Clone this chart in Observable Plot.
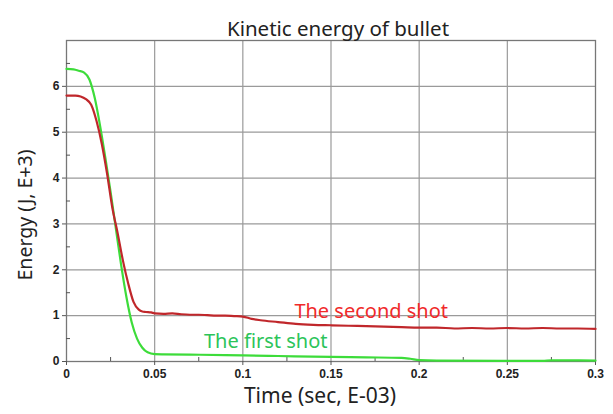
<!DOCTYPE html>
<html><head><meta charset="utf-8">
<script src="https://cdn.jsdelivr.net/npm/d3@7"></script>
<script src="https://cdn.jsdelivr.net/npm/@observablehq/plot@0.6"></script>
<style>body{margin:0;background:#fff}</style>
</head><body><div id="chart"></div>
<script>
const title = "Kinetic energy of bullet";
const xLabel = "Time (sec, E-03)";
const yLabel = "Energy (J, E+3)";
const xTicks = [0, 0.05, 0.1, 0.15, 0.2, 0.25, 0.3];
const xMinor = [0.025, 0.075, 0.125, 0.175, 0.225, 0.275];
const yTicks = [0, 1, 2, 3, 4, 5, 6];
const yMinor = [0.5, 1.5, 2.5, 3.5, 4.5, 5.5, 6.5];

const firstTime = [0, 0.004, 0.007, 0.010, 0.013, 0.016, 0.019, 0.022, 0.025, 0.028, 0.031, 0.034, 0.037, 0.040, 0.043, 0.046, 0.050, 0.055, 0.07, 0.09, 0.1, 0.12, 0.15, 0.17, 0.19, 0.195, 0.2, 0.21, 0.25, 0.27, 0.275, 0.3];
const firstEnergy = [6.38, 6.37, 6.34, 6.3, 6.15, 5.75, 5.15, 4.45, 3.7, 2.9, 2.1, 1.4, 0.85, 0.5, 0.3, 0.2, 0.16, 0.155, 0.15, 0.14, 0.135, 0.12, 0.1, 0.09, 0.08, 0.06, 0.03, 0.02, 0.015, 0.015, 0.025, 0.02];

const secondTime = [0, 0.005, 0.008, 0.011, 0.014, 0.017, 0.020, 0.023, 0.026, 0.029, 0.032, 0.035, 0.038, 0.041, 0.043, 0.045, 0.048, 0.05, 0.055, 0.06, 0.065, 0.07, 0.075, 0.08, 0.085, 0.09, 0.095, 0.1, 0.105, 0.11, 0.12, 0.13, 0.14, 0.15, 0.16, 0.17, 0.18, 0.19, 0.2, 0.21, 0.22, 0.23, 0.24, 0.25, 0.26, 0.27, 0.28, 0.29, 0.3];
const secondEnergy = [5.8, 5.8, 5.78, 5.72, 5.6, 5.25, 4.75, 4.1, 3.35, 2.8, 2.2, 1.7, 1.3, 1.13, 1.09, 1.08, 1.07, 1.05, 1.04, 1.05, 1.03, 1.02, 1.02, 1.01, 1.0, 1.0, 0.99, 0.98, 0.93, 0.9, 0.86, 0.82, 0.8, 0.79, 0.78, 0.77, 0.76, 0.75, 0.74, 0.74, 0.72, 0.73, 0.72, 0.73, 0.72, 0.73, 0.72, 0.72, 0.71];

const seriesLabels = ["The first shot", "The second shot"];
const labelTime = [0.1130, 0.1728];
const labelEnergy = [0.44, 1.08];
const lineColors = ["#3ddc3a", "#c0272b"];
const textColors = ["#2cc45a", "#f02a2a"];

const first = firstTime.map((t, i) => ({t, e: firstEnergy[i]}));
const second = secondTime.map((t, i) => ({t, e: secondEnergy[i]}));
const labels = seriesLabels.map((s, i) => ({s, t: labelTime[i], e: labelEnergy[i], c: textColors[i]}));

const tickFont = {fontFamily: "Liberation Sans", fontWeight: "bold", fontSize: 12, fill: "#222"};

const chart = Plot.plot({
  width: 613, height: 414,
  marginTop: 40, marginLeft: 66, marginRight: 18, marginBottom: 53,
  style: {fontFamily: "Noto Sans", background: "#fff"},
  x: {domain: [0, 0.3]},
  y: {domain: [0, 7]},
  marks: [
    Plot.gridX(xTicks.slice(1, -1), {stroke: "#9a9a9a", strokeOpacity: 1, strokeWidth: 1.2}),
    Plot.gridY(yTicks.slice(1), {stroke: "#9a9a9a", strokeOpacity: 1, strokeWidth: 1.2}),
    Plot.frame({stroke: "#777", strokeWidth: 1.3}),
    Plot.axisX({ticks: xTicks, tickSize: 4, tickFormat: d => String(d), tickPadding: 4, label: null, ...tickFont, stroke: "#555"}),
    Plot.axisX({ticks: xMinor, tickSize: -4, text: null, label: null, stroke: "#555"}),
    Plot.axisY({ticks: yTicks, tickSize: 4, tickPadding: 3, tickFormat: d => String(d), label: null, ...tickFont, stroke: "#555"}),
    Plot.axisY({ticks: yMinor, tickSize: -4, text: null, label: null, stroke: "#555"}),
    Plot.line(first, {x: "t", y: "e", stroke: lineColors[0], strokeWidth: 2.2, curve: "monotone-x"}),
    Plot.line(second, {x: "t", y: "e", stroke: lineColors[1], strokeWidth: 2.2, curve: "monotone-x"}),
    Plot.text(labels, {x: "t", y: "e", text: "s", fill: "c", fontSize: 20, fontFamily: "Noto Sans"}),
    Plot.text([title], {frameAnchor: "top", textAnchor: "middle", dx: 7, dy: -19, fontSize: 20.5, fill: "#222", fontFamily: "Noto Sans"}),
    Plot.text([xLabel], {frameAnchor: "bottom", textAnchor: "middle", dx: -11, dy: 41, fontSize: 21, fill: "#222", fontFamily: "Noto Sans"}),
    Plot.text([yLabel], {frameAnchor: "left", textAnchor: "middle", dx: -41, dy: 14, rotate: -90, fontSize: 19.5, fill: "#222", fontFamily: "Noto Sans"})
  ]
});
document.getElementById("chart").appendChild(chart);
</script>
</body></html>
